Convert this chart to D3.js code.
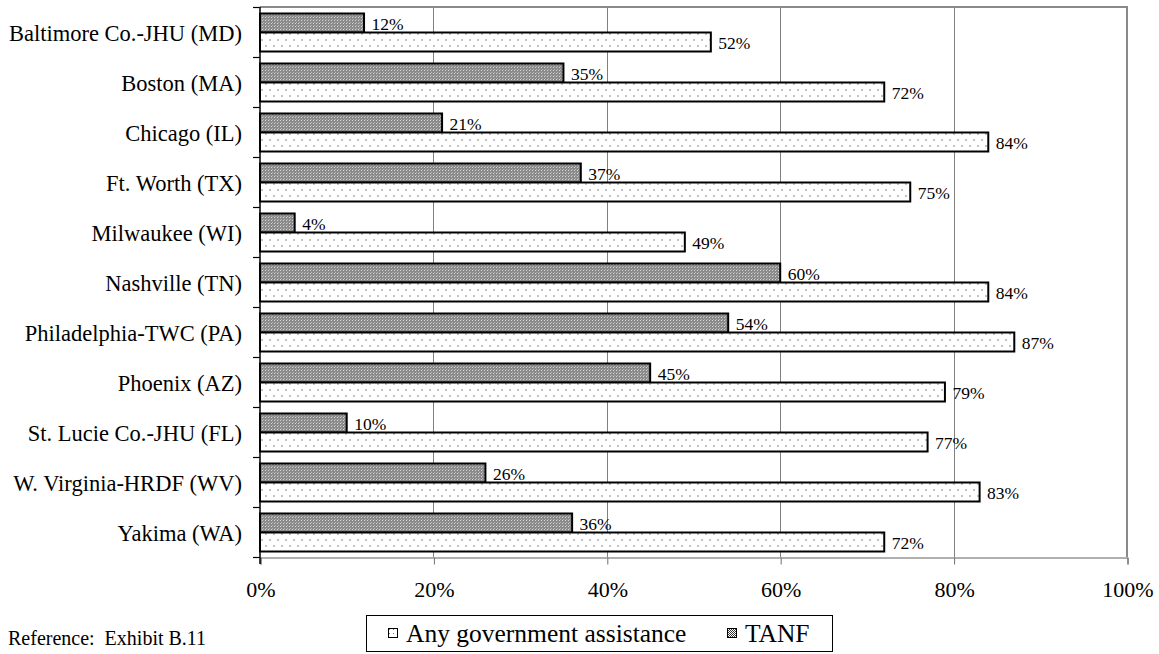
<!DOCTYPE html>
<html>
<head>
<meta charset="utf-8">
<script src="https://cdn.jsdelivr.net/npm/d3@7"></script>
<style>
  html, body { margin: 0; padding: 0; background: #fff; }
  svg { display: block; }
  svg text { font-family: "Liberation Serif", "Times New Roman", Times, serif; fill: #000; white-space: pre; }
</style>
</head>
<body>
<svg id="chart" width="1159" height="654"></svg>
<script>
const categories = [
  "Baltimore Co.-JHU (MD)", "Boston (MA)", "Chicago (IL)", "Ft. Worth (TX)",
  "Milwaukee (WI)", "Nashville (TN)", "Philadelphia-TWC (PA)", "Phoenix (AZ)",
  "St. Lucie Co.-JHU (FL)", "W. Virginia-HRDF (WV)", "Yakima (WA)"
];
const tanfValues = [12, 35, 21, 37, 4, 60, 54, 45, 10, 26, 36];
const anyAssistValues = [52, 72, 84, 75, 49, 84, 87, 79, 77, 83, 72];
const seriesNames = ["TANF", "Any government assistance"];
const legendOrder = ["Any government assistance", "TANF"];
const xTickValues = [0, 20, 40, 60, 80, 100];
const footnote = "Reference:  Exhibit B.11";

const FONT = '"Liberation Serif", "Times New Roman", Times, serif';
const svg = d3.select("#chart");
const defs = svg.append("defs");

// TANF pattern (dense gray stipple)
const pT = defs.append("pattern").attr("id", "patTanf")
  .attr("patternUnits", "userSpaceOnUse").attr("width", 3).attr("height", 3);
pT.append("rect").attr("width", 3).attr("height", 3).attr("fill", "#8a8a8a");
pT.append("rect").attr("x", 1).attr("y", 1).attr("width", 1).attr("height", 1).attr("fill", "#d6d6d6");
pT.append("rect").attr("x", 2).attr("y", 0).attr("width", 1).attr("height", 1).attr("fill", "#b4b4b4");

// Any assistance pattern (sparse light dots)
const pA = defs.append("pattern").attr("id", "patAny")
  .attr("patternUnits", "userSpaceOnUse").attr("width", 8).attr("height", 12);
pA.append("rect").attr("width", 8).attr("height", 12).attr("fill", "#ffffff");
pA.append("rect").attr("x", 1).attr("y", 2).attr("width", 2).attr("height", 2).attr("fill", "#c2c2c2");
pA.append("rect").attr("x", 5).attr("y", 8).attr("width", 2).attr("height", 2).attr("fill", "#c2c2c2");

// legend icon patterns
const pTL = defs.append("pattern").attr("id", "patTanfLeg")
  .attr("patternUnits", "userSpaceOnUse").attr("width", 2).attr("height", 2);
pTL.append("rect").attr("width", 2).attr("height", 2).attr("fill", "#ffffff");
pTL.append("rect").attr("width", 1).attr("height", 1).attr("fill", "#333");
pTL.append("rect").attr("x", 1).attr("y", 1).attr("width", 1).attr("height", 1).attr("fill", "#333");
const pAL = defs.append("pattern").attr("id", "patAnyLeg")
  .attr("patternUnits", "userSpaceOnUse").attr("width", 4).attr("height", 4);
pAL.append("rect").attr("width", 4).attr("height", 4).attr("fill", "#ffffff");
pAL.append("rect").attr("x", 1).attr("y", 1).attr("width", 1).attr("height", 1).attr("fill", "#777");

const fills = { "TANF": "url(#patTanf)", "Any government assistance": "url(#patAny)" };

const plot = { left: 260, right: 1127, top: 7, bottom: 557 };

const x = d3.scaleLinear().domain([0, 100]).range([plot.left, plot.right]);
const y = d3.scaleBand().domain(categories).range([plot.top, plot.bottom]).padding(0);
const inner = d3.scaleBand().domain(seriesNames).range([6.5, 44.5]).padding(0);

// gridlines
svg.append("g").selectAll("line")
  .data(xTickValues.filter(d => d > 0 && d < 100))
  .join("line")
  .attr("x1", d => Math.round(x(d)) + 0.5).attr("x2", d => Math.round(x(d)) + 0.5)
  .attr("y1", plot.top).attr("y2", plot.bottom)
  .attr("stroke", "#808080").attr("stroke-width", 1);

// plot frame top & right
svg.append("line").attr("x1", plot.left).attr("x2", plot.right + 1)
  .attr("y1", plot.top).attr("y2", plot.top)
  .attr("stroke", "#8a8a8a").attr("stroke-width", 2);
svg.append("line").attr("x1", plot.right).attr("x2", plot.right)
  .attr("y1", plot.top).attr("y2", plot.bottom)
  .attr("stroke", "#8a8a8a").attr("stroke-width", 2);

// x axis
const xAxis = d3.axisBottom(x).tickValues(xTickValues).tickFormat(d => d + "%")
  .tickSize(7).tickPadding(17);
const gx = svg.append("g").attr("transform", `translate(0.5,${plot.bottom + 0.5})`).call(xAxis);
gx.attr("font-family", null).attr("font-size", null);
gx.select(".domain").attr("stroke", "#606060");
gx.selectAll(".tick line").attr("stroke", "#707070");
gx.selectAll(".tick text")
  .style("font-family", FONT)
  .style("font-size", "22px").attr("fill", "#000");

// bars
const rows = categories.map((c, i) => ({ cat: c, values: { "TANF": tanfValues[i], "Any government assistance": anyAssistValues[i] } }));
const groups = svg.append("g").selectAll("g").data(rows).join("g")
  .attr("transform", d => `translate(0,${y(d.cat)})`);

groups.selectAll("rect").data(d => seriesNames.map(s => ({ s, v: d.values[s] })))
  .join("rect")
  .attr("x", x(0))
  .attr("y", d => inner(d.s))
  .attr("width", d => x(d.v) - x(0))
  .attr("height", inner.bandwidth())
  .attr("fill", d => fills[d.s])
  .attr("stroke", "#000").attr("stroke-width", 2);

groups.selectAll("text.val").data(d => seriesNames.map(s => ({ s, v: d.values[s] })))
  .join("text").attr("class", "val")
  .attr("x", d => x(d.v) + 7.5)
  .attr("y", d => d.s === "TANF" ? inner(d.s) + 16.5 : inner(d.s) + 16)
  .style("font-size", "17.5px")
  .text(d => d.v + "%");

// left axis
svg.append("line").attr("x1", plot.left).attr("x2", plot.left)
  .attr("y1", plot.top).attr("y2", plot.bottom + 7)
  .attr("stroke", "#000").attr("stroke-width", 1.5);
const boundaries = categories.map(c => y(c)).concat([plot.bottom]);
svg.append("g").selectAll("line").data(boundaries).join("line")
  .attr("x1", plot.left - 7).attr("x2", plot.left)
  .attr("y1", d => d + 0.5).attr("y2", d => d + 0.5)
  .attr("stroke", "#000").attr("stroke-width", 1.2);

svg.append("g").selectAll("text").data(categories).join("text")
  .attr("x", 242)
  .attr("y", d => y(d) + y.bandwidth() / 2 + 9)
  .attr("text-anchor", "end")
  .style("font-size", "22.5px")
  .text(d => d);

// footnote
svg.append("text").attr("x", 8).attr("y", 645)
  .style("font-size", "20px").text(footnote);

// legend
const leg = svg.append("g");
leg.append("rect").attr("x", 366.5).attr("y", 615.5).attr("width", 466).attr("height", 36)
  .attr("fill", "#fff").attr("stroke", "#000").attr("stroke-width", 1);
const legX = { "Any government assistance": 388, "TANF": 727 };
const legFill = { "Any government assistance": "url(#patAnyLeg)", "TANF": "url(#patTanfLeg)" };
const li = leg.selectAll("g.item").data(legendOrder).join("g").attr("class", "item");
li.append("rect")
  .attr("x", d => legX[d] + 0.5).attr("y", 628.5).attr("width", 9).attr("height", 9)
  .attr("fill", d => legFill[d]).attr("stroke", "#000").attr("stroke-width", 1);
li.append("text")
  .attr("x", d => legX[d] + 18).attr("y", 642)
  .style("font-size", "25.5px")
  .text(d => d);
</script>
</body>
</html>
